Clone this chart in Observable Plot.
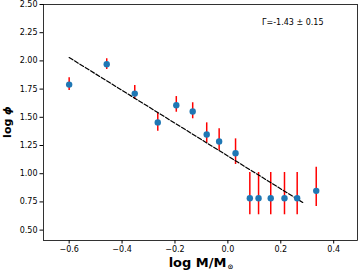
<!DOCTYPE html>
<html>
<head>
<meta charset="utf-8">
<script src="https://cdn.jsdelivr.net/npm/d3@7"></script>
<script src="https://cdn.jsdelivr.net/npm/@observablehq/plot@0.6"></script>
<style>
  html, body { margin: 0; padding: 0; background: #fff; }
  svg { display: block; }
</style>
</head>
<body>
<div id="chart"></div>
<script>
// log M/M_sun bin centres
const xVals = [-0.600, -0.458, -0.352, -0.265, -0.195, -0.133, -0.080, -0.033, 0.029, 0.083, 0.116, 0.162, 0.214, 0.262, 0.334];
// log phi
const yVals = [1.79, 1.97, 1.71, 1.455, 1.607, 1.551, 1.348, 1.285, 1.182, 0.783, 0.783, 0.783, 0.783, 0.783, 0.848];
const yLow  = [1.738, 1.924, 1.658, 1.377, 1.545, 1.487, 1.270, 1.206, 1.082, 0.636, 0.636, 0.636, 0.636, 0.636, 0.709];
const yHigh = [1.850, 2.019, 1.782, 1.536, 1.684, 1.629, 1.451, 1.398, 1.309, 1.011, 1.011, 1.011, 1.011, 1.011, 1.058];
// power-law fit
const fitX = [-0.6, 0.283];
const fitY = [2.03, 0.745];
const fitLabel = "Γ=-1.43 ± 0.15";
const xTicks = [-0.6, -0.4, -0.2, 0.0, 0.2, 0.4];
const yTicks = [0.5, 0.75, 1.0, 1.25, 1.5, 1.75, 2.0, 2.25, 2.5];

const pts = xVals.map((x, i) => ({x, y: yVals[i], lo: yLow[i], hi: yHigh[i]}));
const fit = fitX.map((x, i) => ({x, y: fitY[i]}));

const font = "DejaVu Sans, sans-serif";

const svg = Plot.plot({
  width: 362,
  height: 272,
  marginLeft: 43,
  marginRight: 5,
  marginTop: 4,
  marginBottom: 32,
  style: {fontFamily: font, fontSize: "8px", color: "#000", background: "#fff"},
  x: {domain: [-0.697, 0.49]},
  y: {domain: [0.408, 2.5]},
  marks: [
    Plot.axisX({ticks: xTicks, tickFormat: d3.format(".1f"), tickSize: 3.5, tickPadding: 2.5, label: null, fontSize: 8}),
    Plot.axisY({ticks: yTicks, tickFormat: d3.format(".2f"), tickSize: 3.5, tickPadding: 2.5, label: null, fontSize: 8}),
    Plot.ruleX(pts, {x: "x", y1: "lo", y2: "hi", stroke: "red", strokeWidth: 1.5}),
    Plot.line(fit, {x: "x", y: "y", stroke: "#000", strokeWidth: 1.2, strokeDasharray: "4.4,1.9"}),
    Plot.dot(pts, {x: "x", y: "y", r: 3.2, fill: "#1f77b4"}),
    Plot.text([fitLabel], {text: d => d, frameAnchor: "top-right", dx: -34, dy: 18, textAnchor: "end", lineAnchor: "middle", fontSize: 8, fill: "#000"}),
    Plot.frame({stroke: "#000", strokeWidth: 0.8})
  ]
});

const s = d3.select(svg);
const xl = s.append("text")
  .attr("x", 201).attr("y", 267)
  .attr("text-anchor", "middle")
  .attr("font-family", font).attr("font-weight", "bold").attr("font-size", 13)
  .attr("fill", "#000");
xl.append("tspan").text("log M/M");
xl.append("tspan").attr("font-size", 7).attr("dy", 1.5).attr("dx", 1).text("⊙");

const yl = s.append("text")
  .attr("transform", "translate(10.5,122) rotate(-90)")
  .attr("text-anchor", "middle")
  .attr("font-family", font).attr("font-weight", "bold").attr("font-size", 11)
  .attr("fill", "#000");
yl.append("tspan").text("log ");
yl.append("tspan").attr("font-style", "italic").text("ϕ");

document.getElementById("chart").appendChild(svg);
</script>
</body>
</html>
